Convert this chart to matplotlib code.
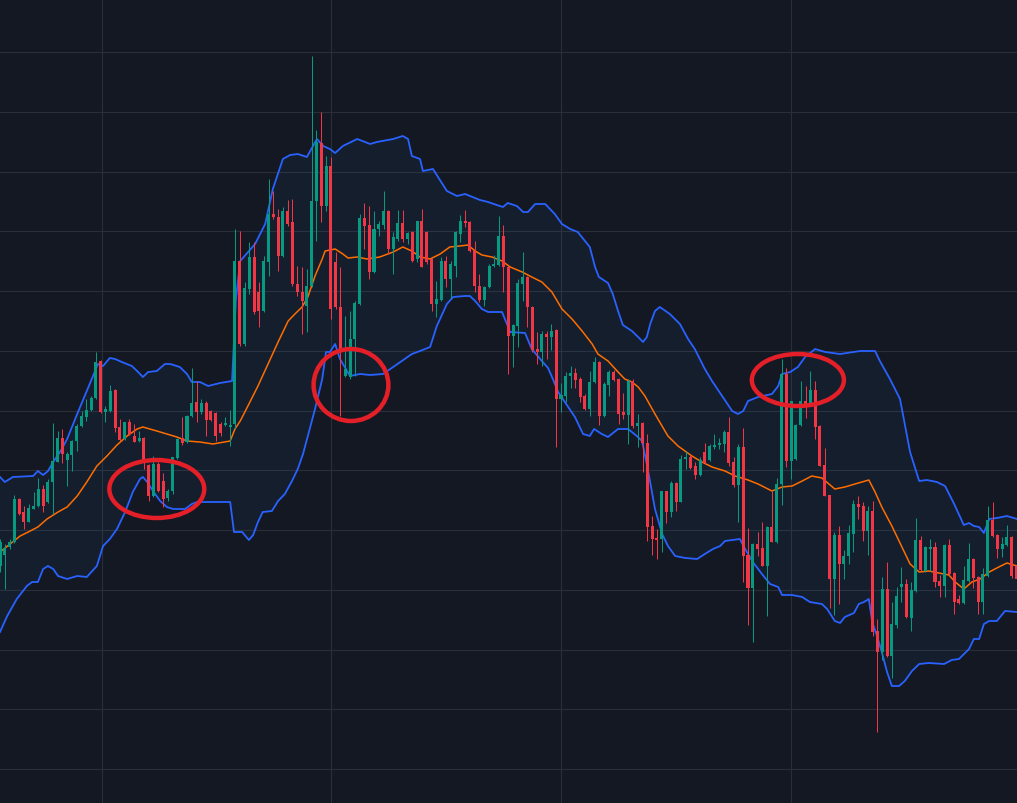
import numpy as np
import matplotlib
matplotlib.use("Agg")
import matplotlib.pyplot as plt
from matplotlib.patches import Ellipse

# OHLC per bar (price units)
opens = [433, 444, 452, 457, 500, 487, 477, 490, 493, 510, 497, 517, 537, 561, 539, 544, 558, 573, 582, 589,
         601, 638, 587, 588, 609, 572, 560, 577, 563, 558, 561, 534, 503, 535, 518, 501, 508, 541, 561, 557,
         583, 597, 587, 596, 588, 586, 575, 574, 572, 575, 738, 655, 710, 742, 707, 688, 737, 785, 782, 743,
         788, 777, 715, 707, 693, 713, 798, 856, 793, 833, 737, 692, 623, 622, 660, 695, 781, 774, 727, 770,
         774, 788, 750, 760, 776, 760, 767, 740, 778, 767, 740, 695, 699, 738, 720, 733, 765, 778, 777, 748,
         713, 699, 712, 733, 734, 763, 732, 663, 673, 715, 722, 692, 650, 647, 665, 662, 669, 600, 603, 623,
         626, 620, 603, 590, 617, 637, 583, 614, 627, 620, 587, 584, 618, 573, 576, 556, 473, 461, 460, 508,
         487, 516, 497, 540, 542, 533, 524, 547, 539, 552, 554, 555, 567, 537, 514, 552, 444, 411, 455, 451,
         433, 472, 457, 515, 625, 538, 540, 574, 598, 594, 609, 573, 534, 504, 420, 464, 435, 443, 465, 495,
         493, 468, 488, 368, 347, 410, 343, 374, 412, 415, 381, 408, 459, 428, 450, 452, 418, 413, 454, 426,
         400, 396, 418, 440, 422, 397, 423, 479, 464, 450, 454, 462, 433]
highs = [460, 455, 460, 504, 501, 493, 495, 507, 521, 514, 520, 576, 568, 570, 547, 559, 575, 588, 600, 603,
         647, 639, 593, 614, 610, 580, 577, 580, 575, 568, 562, 535, 543, 537, 526, 510, 542, 561, 582, 584,
         631, 618, 600, 598, 589, 587, 577, 582, 589, 770, 768, 717, 757, 757, 717, 743, 820, 808, 790, 792,
         799, 800, 733, 732, 730, 943, 869, 887, 843, 842, 747, 732, 683, 688, 698, 785, 796, 793, 788, 778,
         808, 789, 767, 789, 789, 767, 768, 778, 790, 768, 741, 718, 742, 743, 738, 768, 784, 789, 778, 758,
         725, 713, 735, 744, 783, 774, 733, 675, 720, 747, 723, 693, 667, 668, 668, 675, 670, 616, 627, 633,
         631, 622, 605, 628, 642, 638, 617, 629, 629, 621, 606, 620, 620, 585, 577, 565, 483, 470, 508, 508,
         518, 517, 544, 548, 544, 537, 542, 556, 555, 565, 561, 569, 582, 542, 555, 571, 471, 456, 467, 477,
         473, 508, 521, 640, 631, 598, 575, 618, 613, 628, 618, 574, 551, 504, 467, 473, 449, 474, 499, 503,
         497, 493, 498, 380, 422, 437, 397, 412, 432, 420, 417, 481, 463, 453, 460, 457, 424, 455, 460, 427,
         404, 433, 456, 441, 423, 431, 493, 497, 465, 462, 474, 463, 435]
lows = [427, 410, 450, 456, 484, 470, 477, 490, 492, 487, 496, 485, 537, 536, 513, 528, 548, 572, 578, 588,
        600, 586, 577, 587, 567, 558, 559, 564, 557, 557, 530, 498, 502, 507, 492, 498, 505, 540, 554, 556,
        582, 577, 585, 563, 578, 558, 563, 573, 553, 570, 653, 653, 705, 685, 672, 687, 723, 780, 728, 742,
        773, 713, 703, 665, 667, 712, 758, 777, 788, 680, 690, 583, 622, 620, 623, 694, 750, 720, 726, 763,
        770, 745, 725, 758, 757, 755, 737, 737, 732, 735, 688, 682, 698, 712, 700, 722, 757, 772, 747, 707,
        697, 693, 711, 732, 733, 707, 625, 632, 652, 698, 672, 647, 635, 633, 640, 649, 552, 587, 597, 611,
        611, 597, 589, 583, 616, 574, 582, 603, 618, 575, 580, 555, 571, 552, 527, 458, 444, 440, 447, 476,
        482, 488, 497, 530, 530, 520, 523, 535, 538, 550, 550, 547, 533, 512, 477, 417, 374, 357, 443, 433,
        383, 457, 456, 494, 532, 520, 539, 573, 581, 593, 560, 533, 503, 391, 384, 395, 420, 435, 447, 480,
        458, 444, 363, 267, 339, 342, 321, 371, 397, 381, 368, 407, 428, 427, 428, 412, 402, 402, 424, 385,
        395, 395, 417, 411, 385, 385, 422, 462, 441, 442, 453, 421, 418]
closes = [457, 451, 457, 500, 485, 477, 491, 493, 510, 493, 517, 538, 561, 545, 545, 558, 573, 583, 589, 601,
          637, 587, 590, 608, 571, 559, 577, 565, 557, 561, 537, 503, 535, 508, 500, 508, 542, 560, 556, 583,
          596, 587, 596, 579, 579, 563, 566, 576, 574, 738, 655, 711, 742, 687, 688, 738, 785, 782, 743, 788,
          775, 715, 707, 698, 713, 798, 857, 793, 833, 690, 692, 650, 630, 660, 696, 781, 773, 727, 770, 775,
          788, 750, 762, 776, 760, 766, 738, 778, 732, 737, 695, 700, 738, 720, 735, 767, 778, 776, 748, 713,
          699, 712, 733, 735, 763, 732, 663, 674, 716, 722, 692, 649, 647, 665, 662, 668, 600, 604, 623, 626,
          619, 602, 590, 617, 637, 583, 615, 627, 619, 585, 584, 618, 573, 576, 556, 472, 460, 459, 508, 487,
          516, 497, 540, 542, 531, 524, 539, 536, 553, 554, 556, 567, 536, 514, 552, 443, 411, 455, 450, 433,
          472, 457, 515, 625, 538, 598, 574, 598, 595, 609, 572, 533, 503, 420, 464, 435, 443, 466, 495, 492,
          468, 488, 367, 347, 410, 343, 375, 403, 415, 382, 409, 459, 429, 452, 452, 417, 413, 454, 425, 397,
          396, 419, 440, 421, 397, 425, 479, 463, 450, 455, 462, 423, 420]

# Bollinger bands (bar position, price)
upper_x = [0, 1.0, 2.7, 6.9, 7.9, 9.0, 10.0, 11.1, 12.9, 14.0, 16.1, 18.1, 19.4, 20.4, 21.5, 22.9, 24.0, 25.4,
           27.5, 28.8, 29.8, 30.9, 32.7, 34.4, 35.5, 37.5, 39.0, 40.0, 41.7, 43.4, 45.9, 48.4, 49.2, 50.1, 53.2,
           55.3, 56.9, 59.0, 60.5, 62.1, 64.0, 66.1, 67.4, 68.8, 69.9, 71.5, 74.5, 77.2, 78.6, 82.0, 84.0, 85.1,
           85.9, 87.6, 88.2, 90.3, 93.2, 95.3, 97.0, 100.1, 101.8, 103.6, 104.9, 105.9, 107.8, 109.1, 110.1,
           111.6, 113.7, 115.7, 117.2, 118.9, 120.5, 122.0, 123.0, 124.1, 124.9, 126.8, 127.8, 128.9, 129.9,
           131.8, 133.5, 134.1, 134.9, 135.6, 136.6, 137.6, 139.7, 141.8, 143.5, 144.9, 147.0, 148.5, 150.6,
           152.7, 153.9, 155.0, 156.0, 158.1, 161.0, 162.3, 163.1, 164.8, 166.4, 167.9, 170.0, 172.1, 175.2,
           179.4, 182.5, 183.5, 185.6, 187.7, 188.5, 189.8, 191.7, 193.3, 195.4, 197.1, 199.0, 201.0, 202.1,
           203.1, 204.2, 205.2, 206.3, 207.9, 210.0, 212.1]
upper = [522, 517, 522, 523, 528, 524, 528, 537, 550, 560, 585, 608, 623, 635, 633, 641, 640, 637,
         633, 627, 622, 627, 628, 635, 635, 632, 625, 617, 617, 613, 616, 618, 700, 738, 755,
         775, 810, 840, 844, 845, 842, 860, 853, 850, 846, 853, 860, 855, 857, 860, 863, 860,
         843, 840, 828, 830, 808, 803, 805, 799, 797, 794, 792, 796, 793, 787, 787,
         795, 795, 785, 775, 770, 767, 758, 752, 732, 722, 716, 705, 688, 674,
         668, 660, 657, 662, 675, 688, 692, 685, 675, 660, 650, 630, 618, 603,
         588, 585, 588, 598, 602, 605, 613, 625, 627, 632, 642, 650, 647, 645,
         648, 648, 638, 620, 600, 580, 547, 518, 519, 517, 513, 495, 474, 476,
         473, 472, 466, 480, 481, 483, 480]
basis_x = [0, 2.1, 4.2, 6.3, 7.9, 9.8, 12.1, 14.0, 16.1, 18.1, 20.2, 22.3, 24.4, 26.5, 28.6, 29.8, 32.7, 34.8,
           36.9, 39.0, 41.7, 44.4, 48.0, 49.0, 50.1, 51.7, 53.8, 55.9, 58.0, 60.1, 61.5, 63.0, 64.2, 65.7, 67.2,
           67.8, 69.9, 71.5, 72.6, 74.5, 76.5, 79.2, 82.0, 84.0, 85.9, 87.6, 89.7, 91.8, 93.8, 95.9, 97.6, 99.1,
           100.5, 102.6, 104.7, 106.4, 108.9, 110.9, 113.0, 115.1, 117.2, 119.3, 121.4, 123.5, 124.7, 126.8,
           128.9, 130.3, 131.8, 133.1, 134.5, 136.6, 139.3, 141.4, 144.3, 146.4, 148.5, 151.2, 153.3, 156.0,
           158.1, 161.0, 163.1, 165.2, 167.3, 169.3, 171.4, 174.1, 176.2, 178.3, 181.2, 182.5, 183.9, 186.0,
           188.1, 189.8, 191.7, 193.7, 195.8, 197.9, 199.2, 201.0, 202.7, 204.4, 206.3, 208.3, 210.0, 212.1]
basis = [447, 455, 463, 468, 472, 480, 487, 492, 503, 517, 533, 543, 554, 563, 570, 572, 568, 565,
         562, 558, 557, 555, 558, 570, 578, 593, 613, 635, 657, 678, 685, 692, 702, 723, 740,
         748, 750, 745, 741, 742, 740, 742, 747, 752, 748, 742, 740, 745, 752, 753, 754, 748,
         744, 742, 738, 732, 727, 722, 717, 707, 690, 680, 668, 655, 645, 638,
         627, 620, 617, 612, 603, 585, 563, 553, 543, 537, 532, 528, 523, 519,
         515, 508, 512, 513, 518, 523, 521, 510, 512, 515, 519, 507, 492, 473,
         452, 435, 427, 428, 426, 424, 417, 410, 417, 420, 427, 432, 436, 433]
lower_x = [0, 1.5, 3.5, 5.6, 6.7, 7.9, 9.0, 10.0, 11.1, 12.1, 14.0, 16.1, 18.1, 20.2, 21.5, 22.9, 24.4, 26.1,
           27.7, 29.2, 29.8, 30.7, 31.9, 33.4, 34.8, 36.1, 38.6, 40.0, 41.1, 48.0, 48.8, 50.5, 51.9, 52.8, 53.8,
           54.8, 56.7, 58.0, 59.4, 60.9, 62.1, 63.2, 64.2, 65.7, 67.2, 68.0, 68.8, 69.9, 70.9, 73.0, 75.1, 77.2,
           79.9, 82.0, 83.8, 85.9, 87.6, 89.7, 91.1, 93.2, 94.5, 97.0, 98.0, 99.1, 100.5, 101.8, 104.7, 105.3,
           106.4, 109.5, 110.9, 113.0, 114.3, 115.3, 116.4, 117.8, 119.9, 121.6, 123.0, 123.9, 125.5, 126.8,
           128.9, 131.0, 132.8, 133.9, 135.1, 136.6, 138.1, 139.3, 140.8, 142.9, 145.4, 147.0, 148.7, 150.2,
           151.2, 154.3, 155.4, 157.0, 158.9, 160.6, 162.3, 163.1, 165.2, 167.3, 168.9, 171.4, 172.5, 174.1,
           175.2, 176.2, 178.1, 179.1, 180.2, 181.2, 181.9, 182.9, 183.9, 185.0, 186.0, 187.5, 188.7, 190.2,
           191.7, 193.7, 196.9, 198.5, 200.0, 202.1, 203.1, 204.2, 205.2, 206.3, 207.9, 209.6, 212.1]
lower = [367, 383, 400, 413, 417, 417, 430, 433, 430, 423, 420, 423, 422, 433, 453, 460, 470, 487,
         507, 520, 522, 517, 508, 498, 492, 490, 490, 495, 497, 497, 467, 467, 459, 464, 477,
         487, 488, 498, 505, 518, 530, 545, 563, 590, 620, 647, 647, 655, 640, 623, 625, 624,
         625, 632, 638, 645, 648, 652, 673, 695, 702, 703, 703, 698, 690, 687, 687, 680,
         667, 666, 650, 638, 631, 620, 607, 597, 582, 565, 563, 570, 565, 562,
         570, 570, 563, 558, 530, 490, 465, 453, 443, 441, 440, 445, 450, 453,
         458, 460, 450, 437, 425, 415, 412, 404, 404, 402, 397, 395, 390, 378,
         376, 382, 386, 395, 397, 400, 377, 363, 347, 327, 313, 313, 318, 328,
         335, 336, 335, 339, 340, 350, 360, 360, 375, 378, 378, 388, 387]

# highlighted zones: (bar center, price center, width in bars, height in price)
marks_x = [32.7, 73.2, 166.4]
marks_y = [510, 614, 619]
marks_w = [19.8, 15.6, 19.2]
marks_h = [58, 72, 52]

BG = '#141823'
UP = '#089981'
DOWN = '#f23645'

fig = plt.figure(figsize=(10.17, 8.04), dpi=100, facecolor=BG)
ax = fig.add_axes([0, 0, 1, 1])
ax.set_facecolor(BG)

# band fill
ax.fill(np.r_[upper_x, lower_x[::-1]], np.r_[upper, lower[::-1]],
        color='#2196f3', alpha=0.05, lw=0, zorder=1)
ax.plot(upper_x, upper, color='#2962ff', lw=1.3, zorder=2)
ax.plot(lower_x, lower, color='#2962ff', lw=1.3, zorder=2)
ax.plot(basis_x, basis, color='#ff6d00', lw=1.1, zorder=2)

o = np.array(opens)
h = np.array(highs)
l = np.array(lows)
c = np.array(closes)
idx = np.arange(len(o))
cols = np.where(c >= o, UP, DOWN)

ax.vlines(idx, l, h, colors=cols, lw=0.72, zorder=3)
body = np.maximum(np.abs(c - o), 1.5)
ax.bar(idx, body, bottom=np.minimum(o, c), width=0.63, color=cols, lw=0, zorder=4)

for mx, my, mw, mh in zip(marks_x, marks_y, marks_w, marks_h):
    ax.add_patch(Ellipse((mx, my), mw, mh, fill=False, ec='#e51f28', lw=3.2, zorder=6))

ax.set_xlim(0, 212.1)
ax.set_ylim(196, 1000)
ax.set_xticks(np.arange(21.2, 212, 47.93))
ax.set_yticks(np.arange(230, 960, 59.75))
ax.grid(True, color='#2a2e39', lw=0.8, zorder=0)
ax.set_axisbelow(True)
ax.tick_params(length=0, labelbottom=False, labelleft=False)
for s in ax.spines.values():
    s.set_visible(False)

fig.savefig('out.png', dpi=100, facecolor=BG)
